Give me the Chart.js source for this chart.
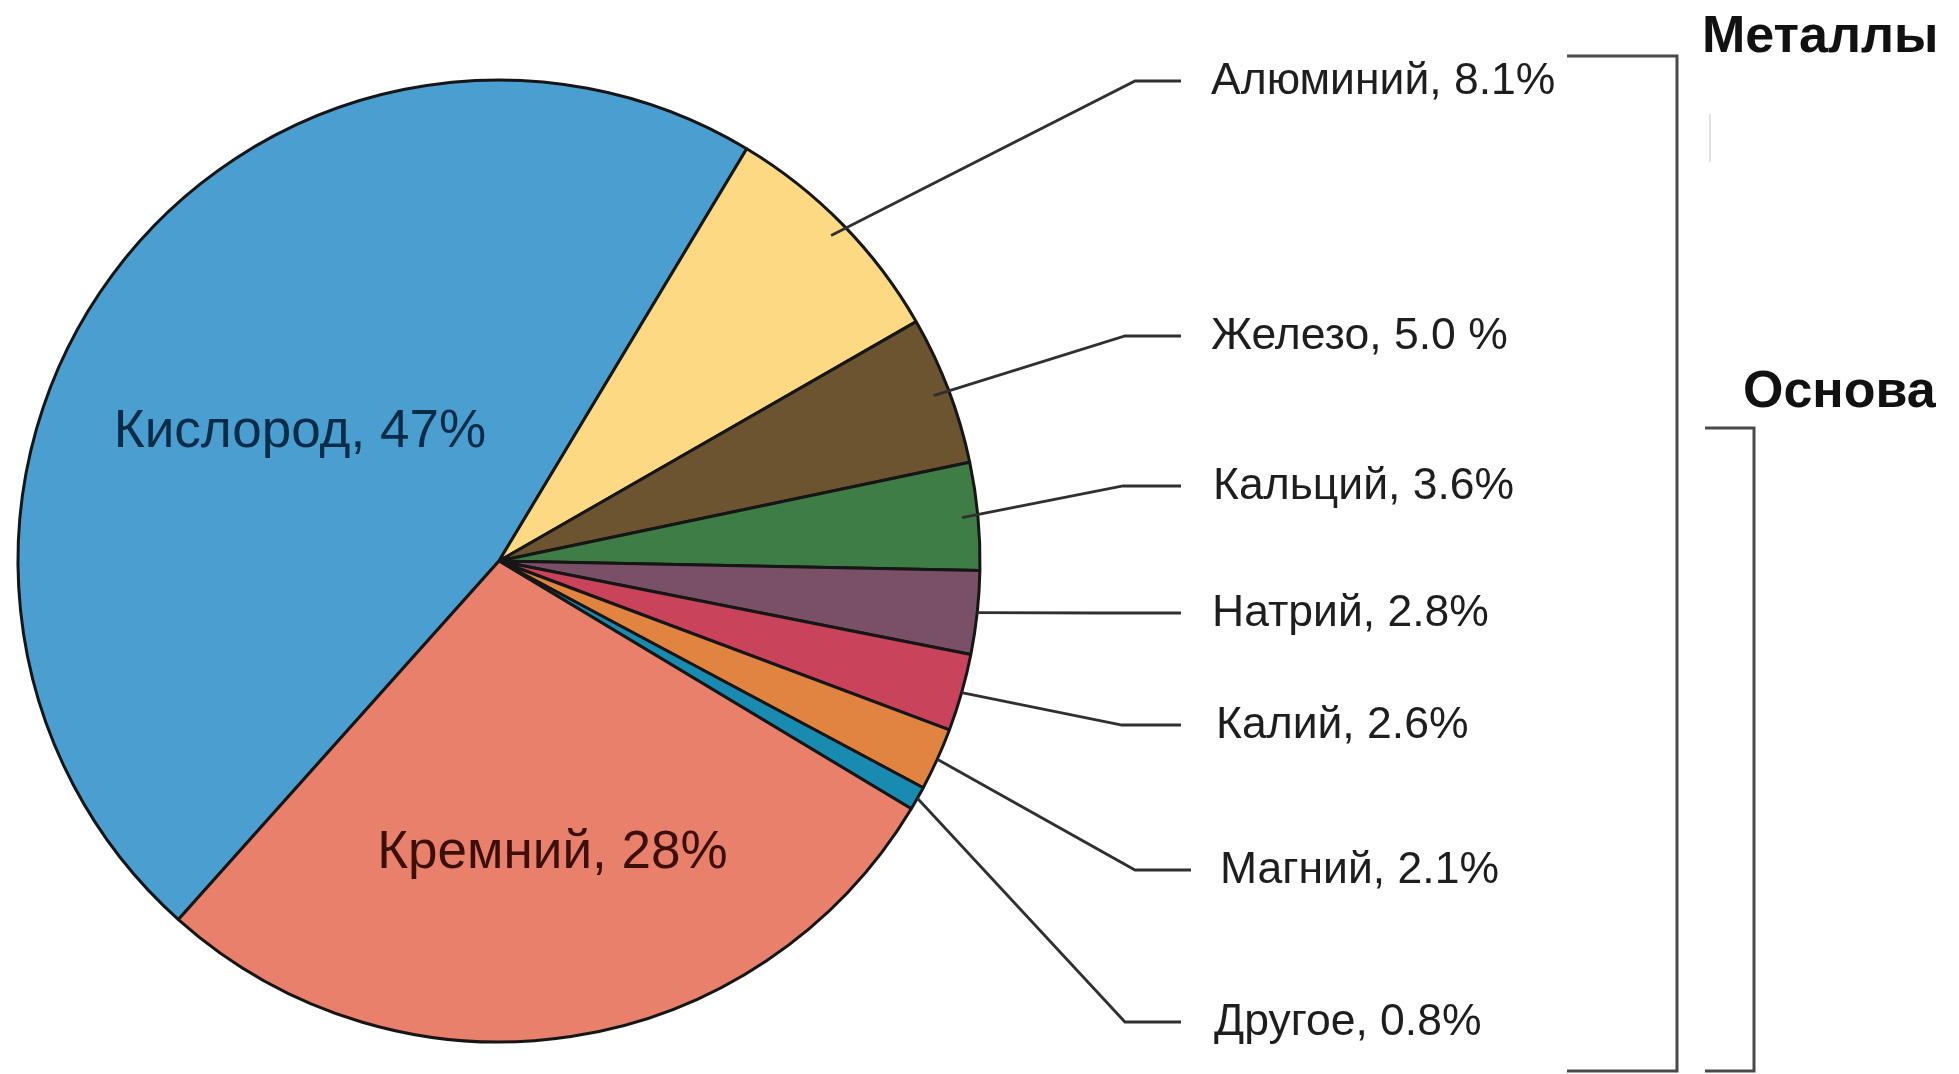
<!DOCTYPE html>
<html>
<head>
<meta charset="utf-8">
<script src="https://cdn.jsdelivr.net/npm/chart.js@4.4.1/dist/chart.umd.min.js"></script>
<style>
  body { margin: 0; background: #fff; }
  canvas { display: block; }
</style>
</head>
<body>
<canvas id="myCanvas" width="1959" height="1074"></canvas>
<script>
// данные
const elements = ["Кислород", "Алюминий", "Железо", "Кальций", "Натрий", "Калий", "Магний", "Другое", "Кремний"];
const shares = [47, 8.1, 5.0, 3.6, 2.8, 2.6, 2.1, 0.8, 28];
const shareLabels = ["47%", "8.1%", "5.0 %", "3.6%", "2.8%", "2.6%", "2.1%", "0.8%", "28%"];
const colors = ["#4a9ed0", "#fdd983", "#6d5431", "#3e7d46", "#7a5066", "#c9435a", "#e0843f", "#1a8bb0", "#e8806c"];

// подписи снаружи (индексы 1..7): положение выносок
const calloutY = [81, 336, 486, 613, 725, 870, 1022];
const calloutKneeX = [1135, 1125, 1123, 1100, 1122, 1135, 1125];
const calloutEndX = [1181, 1181, 1181, 1181, 1181, 1191, 1181];
const calloutTextX = [1211, 1211, 1213, 1212, 1216, 1220, 1214];
const calloutInset = [16, 16, 16, 0, 0, 0, 0];

const labelFont = "44.5px 'Liberation Sans', Arial, sans-serif";
const innerFont = "53px 'Liberation Sans', Arial, sans-serif";
const groupFont = "bold 52px 'Liberation Sans', Arial, sans-serif";

const annotate = {
  id: "annotate",
  afterDatasetsDraw(chart) {
    const ctx = chart.ctx;
    const arcs = chart.getDatasetMeta(0).data;
    ctx.save();

    // подписи внутри секторов
    const inner = [
      { i: 0, frac: 0.498, shift: -2.6, color: "#0b2c49" },
      { i: 8, frac: 0.609, shift: -1.9, color: "#3d0f0a" },
    ];
    ctx.font = innerFont;
    ctx.textAlign = "center";
    ctx.textBaseline = "alphabetic";
    inner.forEach(({ i, frac, shift, color }) => {
      const a = arcs[i];
      const mid = (a.startAngle + a.endAngle) / 2 + shift * Math.PI / 180;
      const x = a.x + a.outerRadius * frac * Math.cos(mid);
      const y = a.y + a.outerRadius * frac * Math.sin(mid);
      ctx.fillStyle = color;
      ctx.fillText(elements[i] + ", " + shareLabels[i], x, y + 19);
    });

    // выноски
    ctx.strokeStyle = "#303030";
    ctx.lineWidth = 2.8;
    ctx.font = labelFont;
    ctx.textAlign = "left";
    ctx.fillStyle = "#1e1e1e";
    for (let k = 0; k < 7; k++) {
      const i = k + 1;
      const a = arcs[i];
      const mid = (a.startAngle + a.endAngle) / 2;
      const r = a.outerRadius - calloutInset[k];
      ctx.beginPath();
      ctx.moveTo(a.x + r * Math.cos(mid), a.y + r * Math.sin(mid));
      ctx.lineTo(calloutKneeX[k], calloutY[k]);
      ctx.lineTo(calloutEndX[k], calloutY[k]);
      ctx.stroke();
      ctx.fillText(elements[i] + ", " + shareLabels[i], calloutTextX[k], calloutY[k] + 13);
    }

    // скобки групп
    ctx.strokeStyle = "#4a4a4a";
    ctx.lineWidth = 3;
    ctx.beginPath();
    ctx.moveTo(1567, 56);
    ctx.lineTo(1677, 56);
    ctx.lineTo(1677, 1071);
    ctx.lineTo(1567, 1071);
    ctx.stroke();
    ctx.beginPath();
    ctx.moveTo(1705, 428);
    ctx.lineTo(1754, 428);
    ctx.lineTo(1754, 1071);
    ctx.lineTo(1705, 1071);
    ctx.stroke();
    ctx.strokeStyle = "#d8d8d8";
    ctx.lineWidth = 1.5;
    ctx.beginPath();
    ctx.moveTo(1710, 114);
    ctx.lineTo(1710, 162);
    ctx.stroke();

    ctx.font = groupFont;
    ctx.fillStyle = "#111";
    ctx.fillText("Металлы", 1702, 52);
    ctx.fillText("Основа", 1743, 407);
    ctx.restore();
  },
};

const printChart = (labels, data) => {
  const canvas = document.getElementById("myCanvas");
  const ctx = canvas.getContext("2d");

  new Chart(ctx, {
    type: "pie",
    data: {
      labels,
      datasets: [
        {
          data,
          backgroundColor: colors,
          borderColor: "#161616",
          borderWidth: 3,
        },
      ],
    },
    options: {
      responsive: false,
      animation: false,
      events: [],
      rotation: 221.8,
      radius: 481,
      layout: { padding: { left: 0, right: 961, top: 48, bottom: 0 } },
      plugins: {
        legend: { display: false },
        tooltip: { enabled: false },
      },
    },
    plugins: [annotate],
  });
};

printChart(elements, shares);
</script>
</body>
</html>
